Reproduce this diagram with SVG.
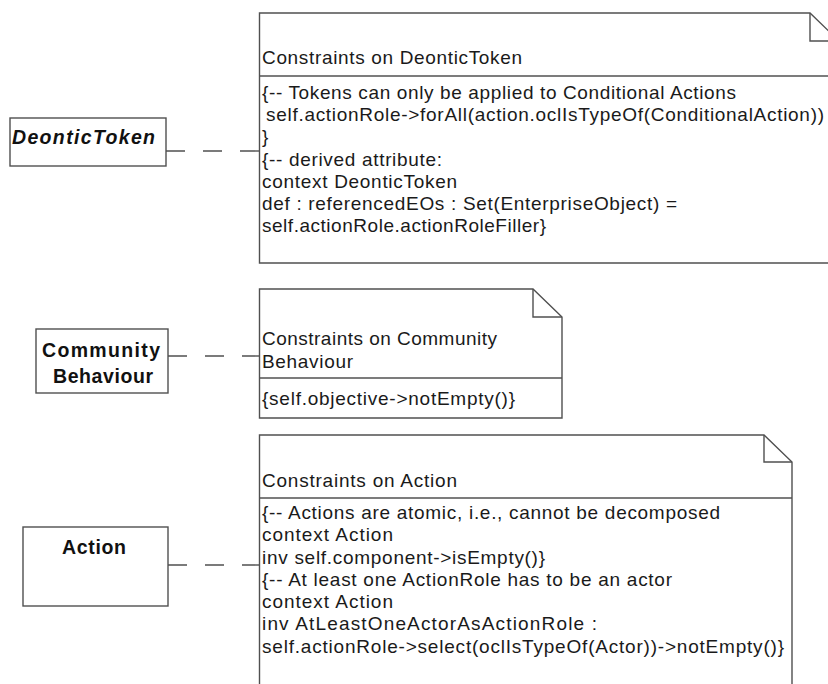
<svg xmlns="http://www.w3.org/2000/svg" width="828" height="684" viewBox="0 0 828 684">
<style>
.bg{fill:#ffffff}
.box{fill:#ffffff;stroke:#505050;stroke-width:1.4}
.note{fill:#ffffff;stroke:#505050;stroke-width:1.4}
.fold{fill:none;stroke:#505050;stroke-width:1.4}
.sep{stroke:#505050;stroke-width:1.4}
.conn{fill:none;stroke:#505050;stroke-width:1.4;stroke-dasharray:19 18}
.t{font-family:"Liberation Sans",Arial,sans-serif;font-size:19px;fill:#1a1a1a}
.cls{font-family:"Liberation Sans",Arial,sans-serif;font-size:19.5px;font-weight:bold;fill:#111111}
</style>
<rect class="bg" x="0" y="0" width="828" height="684"/>

<g id="connectors">
<line class="conn" x1="166" y1="151" x2="259.5" y2="151"/>
<line class="conn" x1="168" y1="356" x2="259.5" y2="356"/>
<line class="conn" x1="168" y1="565" x2="259.5" y2="565"/>
</g>

<g id="DeonticToken">
<rect class="box" x="10" y="118" width="156" height="48"/>
<text class="cls" x="12" y="144" font-style="italic" textLength="143" lengthAdjust="spacing">DeonticToken</text>
</g>

<g id="CommunityBehaviour">
<rect class="box" x="36" y="329" width="132" height="64"/>
<text class="cls" x="101" y="357" text-anchor="middle" textLength="118" lengthAdjust="spacing">Community</text>
<text class="cls" x="103" y="383" text-anchor="middle" textLength="100" lengthAdjust="spacing">Behaviour</text>
</g>

<g id="Action">
<rect class="box" x="23" y="527" width="145" height="79"/>
<text class="cls" x="94" y="554" text-anchor="middle" textLength="64" lengthAdjust="spacing">Action</text>
</g>

<g id="note-DeonticToken">
<path class="note" d="M259.5,13 H810 L839,41 V263 H259.5 Z"/>
<path class="fold" d="M810,13 V41 H839"/>
<line class="sep" x1="259.5" y1="76" x2="839" y2="76"/>
<text class="t" x="262" y="64" textLength="260" lengthAdjust="spacing">Constraints on DeonticToken</text>
<text class="t" x="262" y="99" textLength="474" lengthAdjust="spacing">{-- Tokens can only be applied to Conditional Actions</text>
<text class="t" x="266" y="121" textLength="558" lengthAdjust="spacing">self.actionRole-&gt;forAll(action.oclIsTypeOf(ConditionalAction))</text>
<text class="t" x="262" y="143">}</text>
<text class="t" x="262" y="166" textLength="180" lengthAdjust="spacing">{-- derived attribute:</text>
<text class="t" x="262" y="188" textLength="195" lengthAdjust="spacing">context DeonticToken</text>
<text class="t" x="262" y="210" textLength="415" lengthAdjust="spacing">def : referencedEOs : Set(EnterpriseObject) =</text>
<text class="t" x="262" y="232" textLength="284" lengthAdjust="spacing">self.actionRole.actionRoleFiller}</text>
</g>

<g id="note-CommunityBehaviour">
<path class="note" d="M259.5,289 H533 L562,317 V418 H259.5 Z"/>
<path class="fold" d="M533,289 V317 H562"/>
<line class="sep" x1="259.5" y1="378" x2="562" y2="378"/>
<text class="t" x="262" y="345" textLength="235" lengthAdjust="spacing">Constraints on Community</text>
<text class="t" x="262" y="368" textLength="91" lengthAdjust="spacing">Behaviour</text>
<text class="t" x="262" y="405" textLength="253" lengthAdjust="spacing">{self.objective-&gt;notEmpty()}</text>
</g>

<g id="note-Action">
<path class="note" d="M259.5,435 H764 L792,462 V700 H259.5 Z"/>
<path class="fold" d="M764,435 V462 H792"/>
<line class="sep" x1="259.5" y1="498" x2="792" y2="498"/>
<text class="t" x="262" y="487" textLength="195" lengthAdjust="spacing">Constraints on Action</text>
<text class="t" x="262" y="519" textLength="458" lengthAdjust="spacing">{-- Actions are atomic, i.e., cannot be decomposed</text>
<text class="t" x="262" y="541" textLength="131" lengthAdjust="spacing">context Action</text>
<text class="t" x="262" y="564" textLength="283" lengthAdjust="spacing">inv self.component-&gt;isEmpty()}</text>
<text class="t" x="262" y="586" textLength="410" lengthAdjust="spacing">{-- At least one ActionRole has to be an actor</text>
<text class="t" x="262" y="608" textLength="131" lengthAdjust="spacing">context Action</text>
<text class="t" x="262" y="630" textLength="335" lengthAdjust="spacing">inv AtLeastOneActorAsActionRole :</text>
<text class="t" x="262" y="653" textLength="522" lengthAdjust="spacing">self.actionRole-&gt;select(oclIsTypeOf(Actor))-&gt;notEmpty()}</text>
</g>
</svg>
